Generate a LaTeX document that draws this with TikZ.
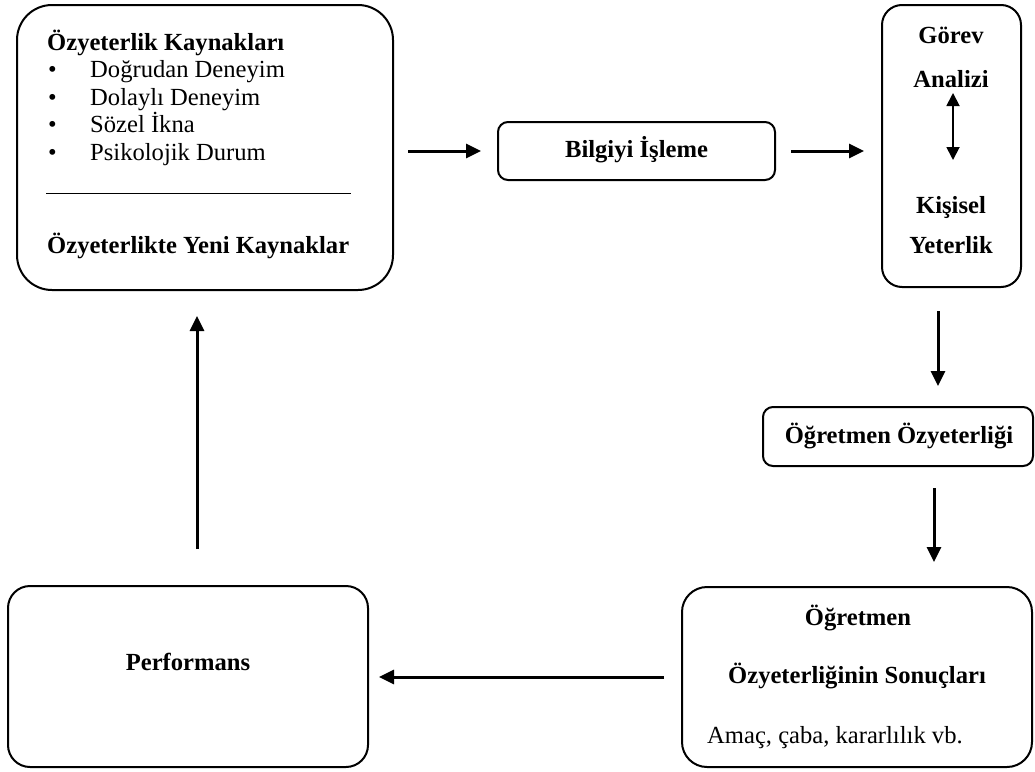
\documentclass[tikz,border=0pt]{standalone}
\usepackage{fontspec}
\setmainfont{Liberation Serif}
\usetikzlibrary{arrows.meta,calc}
\tikzset{
  box/.style={draw, line width=2pt, inner sep=0pt, rounded corners=#1},
  box/.default=10pt,
  txt/.style={inner sep=0pt, font=\fontsize{24.6}{28}\selectfont},
  btxt/.style={txt, font=\fontsize{24.6}{28}\selectfont\bfseries},
  arr/.style={line width=3pt, -{Triangle[length=15pt,width=14pt]}},
  darr/.style={line width=1.8pt, {Triangle[length=13pt,width=13pt]}-{Triangle[length=13pt,width=13pt]}},
}
\begin{document}
\begin{tikzpicture}[x=1pt,y=-1pt]
\useasboundingbox (0,0) rectangle (1035,771);
% boxes
\node[box=35pt, minimum width=376pt, minimum height=285pt] (src) at (205,147.5) {};
\node[box=10pt, minimum width=277pt, minimum height=58pt] (bil) at (636.5,151) {};
\node[box=20pt, minimum width=139pt, minimum height=282pt] (gor) at (951.5,146) {};
\node[box=10pt, minimum width=270pt, minimum height=59pt] (oo) at (898,436.5) {};
\node[box=25pt, minimum width=350pt, minimum height=180pt] (son) at (857,677) {};
\node[box=22pt, minimum width=360pt, minimum height=181pt] (perf) at (188,676.5) {};
% source box texts
\node[btxt, anchor=base west] (t1) at (47,50) {Özyeterlik Kaynakları};
\node[txt, anchor=base west] (b1) at (48,77) {•};
\node[txt, anchor=base west] (i1) at (90,77) {Doğrudan Deneyim};
\node[txt, anchor=base west] (b2) at (48,105) {•};
\node[txt, anchor=base west] (i2) at (90,105) {Dolaylı Deneyim};
\node[txt, anchor=base west] (b3) at (48,132) {•};
\node[txt, anchor=base west] (i3) at (90,132) {Sözel İkna};
\node[txt, anchor=base west] (b4) at (48,160) {•};
\node[txt, anchor=base west] (i4) at (90,160) {Psikolojik Durum};
\coordinate (l1) at (46,193);
\coordinate (l2) at (351,193);
\draw[line width=1pt] (l1) -- (l2);
\node[btxt, anchor=base west] (t2) at (47,253) {Özyeterlikte Yeni Kaynaklar};
% other texts
\node[btxt, anchor=base] (tb) at (636.5,157) {Bilgiyi İşleme};
\node[btxt, anchor=base] (g1) at (951,43) {Görev};
\node[btxt, anchor=base] (g2) at (951,87) {Analizi};
\node[btxt, anchor=base] (g3) at (951,213) {Kişisel};
\node[btxt, anchor=base] (g4) at (951,253) {Yeterlik};
\coordinate (da1) at (953,93);
\coordinate (da2) at (953,160);
\draw[darr] (da1) -- (da2);
\node[btxt, anchor=base] (to) at (899,443) {Öğretmen Özyeterliği};
\node[btxt, anchor=base] (s1) at (858,625) {Öğretmen};
\node[btxt, anchor=base] (s2) at (857,683) {Özyeterliğinin Sonuçları};
\node[txt, anchor=base west] (s3) at (707,743) {Amaç, çaba, kararlılık vb.};
\node[btxt, anchor=base] (tp) at (188,670) {Performans};
% connectors
\draw[arr, shorten <=14pt, shorten >=16pt] (bil.west -| src.east) -- (bil.west);
\draw[arr, shorten <=15pt, shorten >=17pt] (bil.east) -- (bil.east -| gor.west);
\draw[arr, shorten <=23pt, shorten >=20pt] ($(gor.south)+(-13.5,0)$) -- ($(oo.north)+(40,0)$);
\draw[arr, shorten <=21pt, shorten >=24pt] ($(oo.south)+(36,0)$) -- ($(son.north)+(77,0)$);
\draw[arr, shorten <=17pt, shorten >=10pt] (son.west) -- (son.west -| perf.east);
\draw[arr, shorten <=36pt, shorten >=25pt] ($(perf.north)+(9,0)$) -- ($(src.south)+(-8,0)$);
\end{tikzpicture}
\end{document}
